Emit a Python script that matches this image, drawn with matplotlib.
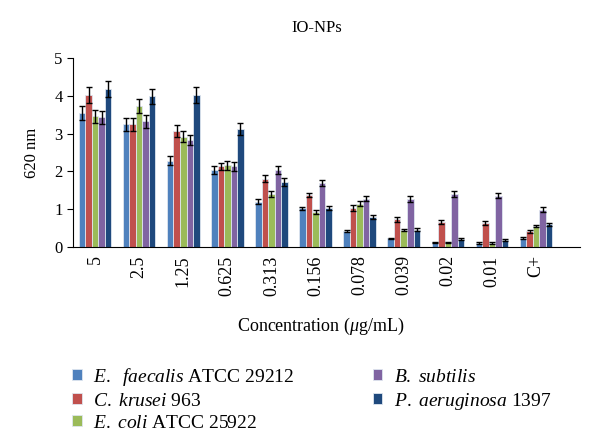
import numpy as np
import matplotlib
matplotlib.use("Agg")
import matplotlib.pyplot as plt

plt.rcParams['font.family'] = ['Liberation Serif', 'DejaVu Serif']
plt.rcParams['mathtext.fontset'] = 'custom'
plt.rcParams['mathtext.rm'] = 'Liberation Serif'
plt.rcParams['mathtext.it'] = 'Liberation Serif:italic'

concentrations = ['5', '2.5', '1.25', '0.625', '0.313', '0.156', '0.078', '0.039', '0.02', '0.01', 'C+']

strains = ['$\\it{E.\\ \\ faecalis}$ ATCC 29212',
           '$\\it{C.\\ krusei}$ 963',
           '$\\it{E.\\ coli}$ ATCC 25922',
           '$\\it{B.\\ subtilis}$',
           '$\\it{P.\\ aeruginosa}$ 1397']

e_faecalis = [3.55, 3.25, 2.28, 2.03, 1.20, 1.02, 0.43, 0.23, 0.12, 0.10, 0.23]
c_krusei = [4.02, 3.25, 3.07, 2.13, 1.81, 1.37, 1.03, 0.73, 0.66, 0.63, 0.41]
e_coli = [3.46, 3.73, 2.92, 2.16, 1.39, 0.92, 1.15, 0.45, 0.12, 0.11, 0.55]
b_subtilis = [3.43, 3.32, 2.83, 2.14, 2.04, 1.70, 1.28, 1.28, 1.41, 1.36, 0.99]
p_aeruginosa = [4.18, 3.99, 4.03, 3.13, 1.72, 1.03, 0.79, 0.46, 0.21, 0.19, 0.60]

err_faecalis = [0.19, 0.17, 0.12, 0.11, 0.07, 0.05, 0.03, 0.02, 0.02, 0.02, 0.03]
err_krusei = [0.21, 0.17, 0.16, 0.10, 0.09, 0.06, 0.07, 0.07, 0.05, 0.05, 0.03]
err_coli = [0.17, 0.19, 0.15, 0.12, 0.08, 0.05, 0.07, 0.03, 0.02, 0.02, 0.03]
err_subtilis = [0.17, 0.18, 0.13, 0.12, 0.11, 0.08, 0.07, 0.08, 0.08, 0.07, 0.07]
err_aeruginosa = [0.22, 0.20, 0.21, 0.16, 0.10, 0.06, 0.06, 0.03, 0.03, 0.03, 0.04]

values = [e_faecalis, c_krusei, e_coli, b_subtilis, p_aeruginosa]
errors = [err_faecalis, err_krusei, err_coli, err_subtilis, err_aeruginosa]
colors = ['#4F81BD', '#C0504D', '#9BBB59', '#8064A2', '#1F497D']

fig = plt.figure(figsize=(5.95, 4.37), dpi=100)
ax = fig.add_axes([0.1227, 0.4348, 0.8523, 0.4325])

x = np.arange(len(concentrations))
w = 0.148
for i in range(5):
    pos = x + (i - 2) * w
    ax.bar(pos, values[i], width=w, color=colors[i], edgecolor='#dfe6f0', linewidth=0.6,
           label=strains[i], zorder=2)
    ax.errorbar(pos, values[i], yerr=errors[i], fmt='none', ecolor='black',
                elinewidth=1, capsize=2, capthick=1, zorder=3)

ax.set_xlim(-0.5, 11.0)
ax.set_ylim(0, 5)
ax.set_yticks([0, 1, 2, 3, 4, 5])
ax.set_xticks(x)
ax.set_xticklabels(concentrations, rotation=90, fontsize=13)
ax.tick_params(axis='x', length=0, pad=6)
ax.tick_params(axis='y', labelsize=12, length=4, direction='out')
ax.spines['top'].set_visible(False)
ax.spines['right'].set_visible(False)
ax.set_ylabel('620 nm', fontsize=12, labelpad=10)

fig.text(317 / 595, 1 - 28 / 437, 'IO-NPs', ha='center', va='center', fontsize=12)
fig.text(321 / 595, 1 - 326 / 437, 'Concentration ($\\it{\\mu}$g/mL)', ha='center', va='center', fontsize=13)

fig.legend(loc='upper left', bbox_to_anchor=(0.108, 1 - 358 / 437), ncol=2, frameon=False,
           fontsize=14, handlelength=0.5, handleheight=0.5, handletextpad=0.6,
           columnspacing=4.0, labelspacing=0.25, borderaxespad=0)

fig.savefig('out.png', dpi=100)
